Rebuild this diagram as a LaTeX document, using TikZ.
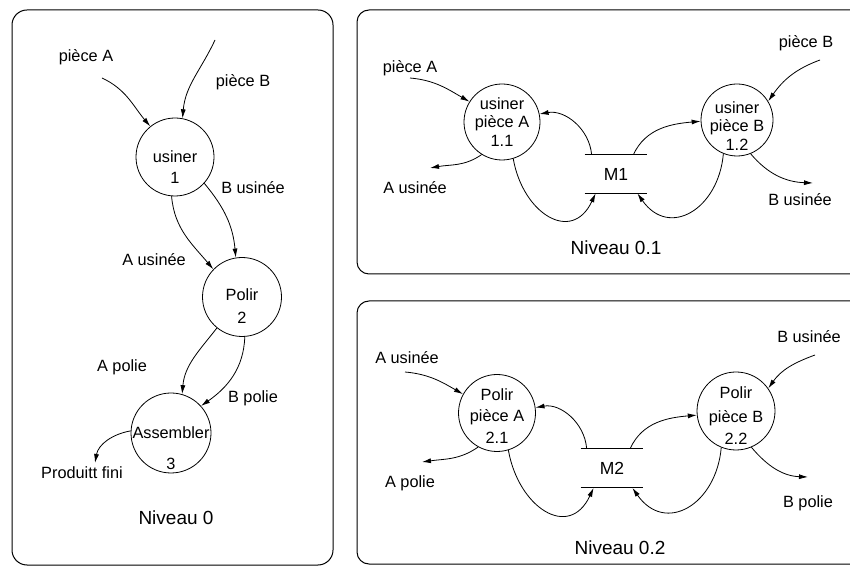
\documentclass[tikz,border=0pt]{standalone}
\usepackage{fontspec}
\setmainfont{Liberation Sans}
\usetikzlibrary{arrows.meta}
\newcommand{\lblfont}{\fontsize{16.3}{18.5}\selectfont}

\begin{document}
\begin{tikzpicture}[x=1pt,y=1pt,>={Latex[length=9pt,width=5pt]},line width=0.8pt,
  proc/.style={circle,draw,minimum size=#1,inner sep=0pt},
  ptxt/.style={font=\lblfont,align=center,inner sep=0pt},
  lbl/.style={font=\lblfont,inner sep=0pt},
  store/.style={minimum width=62pt,minimum height=38pt,inner sep=0pt,font=\fontsize{17.5}{20}\selectfont},
  lvl/.style={font=\fontsize{19}{22}\selectfont}]
\useasboundingbox (0,0) rectangle (850,567);
% ---- frames (right ones run off the page) ----
\draw[line width=1pt,rounded corners=15pt] (12,2) rectangle (333,557);
\draw[line width=1pt,rounded corners=12pt] (357,293) rectangle (875,557);
\draw[line width=1pt,rounded corners=12pt] (357,3) rectangle (875,266);
% ---- Niveau 0 ----
\node[proc=78pt,label={[ptxt,yshift=-10pt]center:{usiner\\[3pt]1}}] (u1) at (175,410) {};
\node[proc=79pt,label={[ptxt,yshift=-9pt]center:{Polir\\[5pt]2}}] (p2) at (242,270) {};
\node[proc=80pt,label={[ptxt,yshift=-15pt]center:{Assembler\\[12pt]3}}] (a3) at (171,134) {};
\node[lbl] (lpA) at (86,510) {pièce A};
\node[lbl] (lpB) at (243,485) {pièce B};
\node[lbl] (lAu) at (154,307) {A usinée};
\node[lbl] (lBu) at (253,379) {B usinée};
\node[lbl] (lAp) at (122,200) {A polie};
\node[lbl] (lBp) at (253,169) {B polie};
\node[lbl] (lPf) at (82,94) {Produitt fini};
\node[lvl] (n0) at (176,49) {Niveau 0};
\coordinate (sA) at (102,489);
\coordinate (sB) at (215,527);
\coordinate (ePf) at (95,104);
\draw[->] (sA) to[out=-25,in=130] (u1.129);
\draw[->] (sB) to[out=245,in=85] (u1.79);
\draw[->] (u1.265) to[out=-85,in=130] (p2.136);
\draw[->] (u1.-42) to[out=-50,in=95] (p2.99);
\draw[->] (p2.231) to[out=232,in=85] (a3.74);
\draw[->] (p2.-86) to[out=-92,in=35] (a3.42);
\draw[->] (a3.177) to[out=190,in=80] (ePf);
% ---- Niveau 0.1 ----
\node[proc=76pt,label={[ptxt]center:{usiner\\pièce A\\1.1}}] (p11) at (502,445) {};
\node[proc=72pt,label={[ptxt,yshift=-6pt]center:{usiner\\pièce B\\1.2}}] (p12) at (737,447) {};
\node[store] (m1) at (616,393) {M1};
\draw (m1.north west) -- (m1.north east) (m1.south west) -- (m1.south east);
\node[lbl] (tpA) at (410,499) {pièce A};
\node[lbl] (tAu) at (415,379) {A usinée};
\node[lbl] (tpB) at (806,524) {pièce B};
\node[lbl] (tBu) at (800,367) {B usinée};
\node[lvl] (n01) at (616,319) {Niveau 0.1};
\coordinate (s11) at (410,489);
\coordinate (e11) at (430,399);
\coordinate (s12) at (820,507);
\coordinate (e12) at (813,384);
\draw[->] (s11) to[out=-5,in=150] (p11.148);
\draw[->] (p11.238) to[out=215,in=10] (e11);
\draw[->] (s12) to[out=200,in=55] (p12.31);
\draw[->] (p12.-68) to[out=-50,in=178] (e12);
\draw[->] ([xshift=7pt]m1.north west) to[out=95,in=10] (p11.12);
\draw[->] (p11.-73) to[out=-80,in=-115,looseness=1.6] ([xshift=11pt]m1.south west);
\draw[->] ([xshift=-14pt]m1.north east) to[out=65,in=185] (p12.182);
\draw[->] (p12.248) to[out=265,in=-55,looseness=1.5] ([xshift=-10pt]m1.south east);
% ---- Niveau 0.2 ----
\node[proc=77pt,label={[ptxt,yshift=-3pt]center:{Polir\\[3pt]pièce A\\[3pt]2.1}}] (p21) at (497,154) {};
\node[proc=78pt,label={[ptxt,yshift=-5pt]center:{Polir\\[5pt]pièce B\\[4pt]2.2}}] (p22) at (736,156) {};
\node[store,minimum height=39pt] (m2) at (612,99) {M2};
\draw (m2.north west) -- (m2.north east) (m2.south west) -- (m2.south east);
\node[lbl] (bAu) at (407,209) {A usinée};
\node[lbl] (bAp) at (410,84) {A polie};
\node[lbl] (bBu) at (809,230) {B usinée};
\node[lbl] (bBp) at (808,64) {B polie};
\node[lvl] (n02) at (620,19) {Niveau 0.2};
\coordinate (s21) at (405,195);
\coordinate (e21) at (422,105);
\coordinate (s22) at (815,212);
\coordinate (e22) at (808,90);
\draw[->] (s21) to[out=-5,in=150] (p21.151);
\draw[->] (p21.241) to[out=215,in=8] (e21);
\draw[->] (s22) to[out=200,in=55] (p22.35);
\draw[->] (p22.-67) to[out=-50,in=178] (e22);
\draw[->] ([xshift=6pt]m2.north west) to[out=95,in=10] (p21.8);
\draw[->] (p21.-73) to[out=-80,in=-115,looseness=1.6] ([xshift=13pt]m2.south west);
\draw[->] ([xshift=-13pt]m2.north east) to[out=65,in=185] (p22.186);
\draw[->] (p22.248) to[out=265,in=-55,looseness=1.5] ([xshift=-11pt]m2.south east);
\end{tikzpicture}
\end{document}
